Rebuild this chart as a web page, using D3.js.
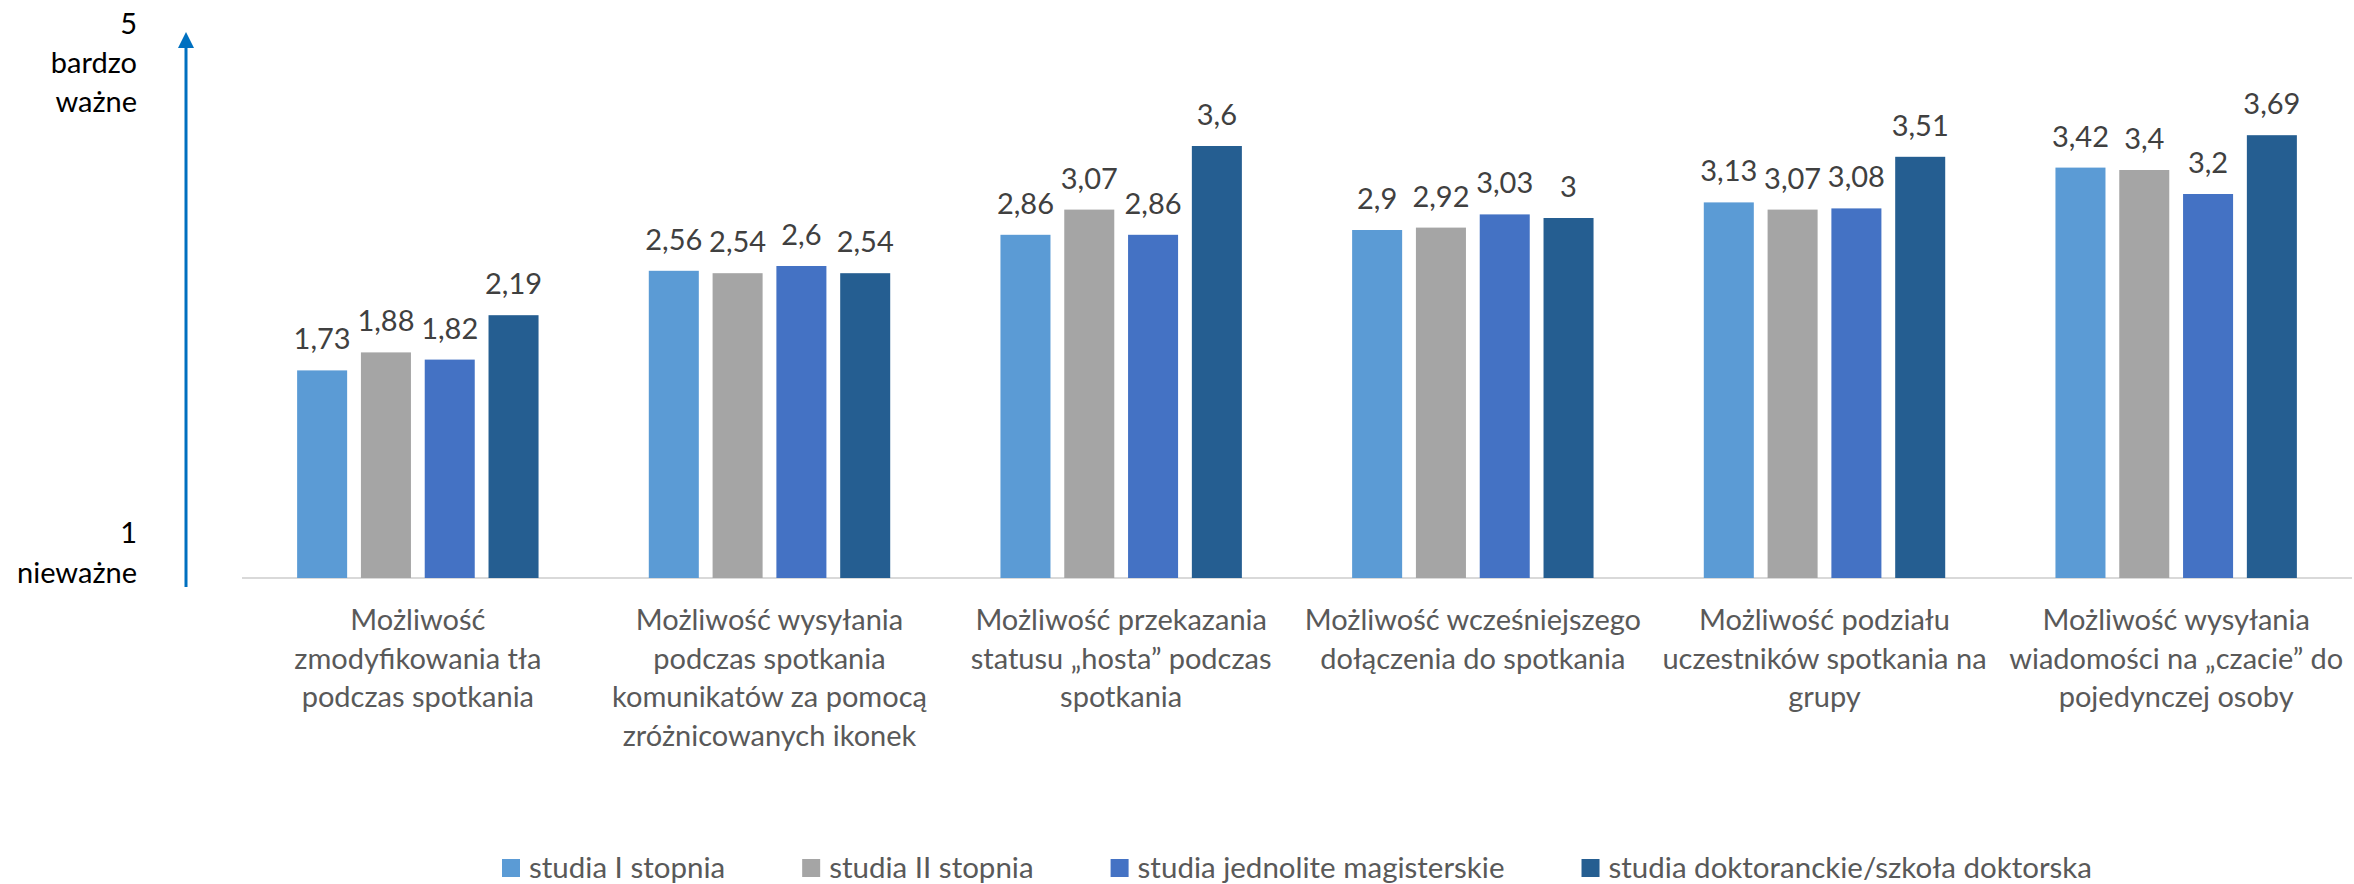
<!DOCTYPE html>
<html>
<head>
<meta charset="utf-8">
<script src="https://cdn.jsdelivr.net/npm/d3@7"></script>
<style>
  html, body { margin: 0; padding: 0; background: #fff; }
  svg { display: block; }
  text { font-family: Lato, "Open Sans", sans-serif; }
</style>
</head>
<body>
<svg id="chart" width="2354" height="884"></svg>
<script>
// ---- data ----
const categories = [
  ["Możliwość", "zmodyfikowania tła", "podczas spotkania"],
  ["Możliwość wysyłania", "podczas spotkania", "komunikatów za pomocą", "zróżnicowanych ikonek"],
  ["Możliwość przekazania", "statusu „hosta” podczas", "spotkania"],
  ["Możliwość wcześniejszego", "dołączenia do spotkania"],
  ["Możliwość podziału", "uczestników spotkania na", "grupy"],
  ["Możliwość wysyłania", "wiadomości na „czacie” do", "pojedynczej osoby"]
];
const seriesNames = [
  "studia I stopnia",
  "studia II stopnia",
  "studia jednolite magisterskie",
  "studia doktoranckie/szkoła doktorska"
];
const studiaI      = [1.73, 2.56, 2.86, 2.90, 3.13, 3.42];
const studiaII     = [1.88, 2.54, 3.07, 2.92, 3.07, 3.40];
const jednolite    = [1.82, 2.60, 2.86, 3.03, 3.08, 3.20];
const doktoranckie = [2.19, 2.54, 3.60, 3.00, 3.51, 3.69];
const seriesValues = [studiaI, studiaII, jednolite, doktoranckie];
const axisTopLabel = ["5", "bardzo", "ważne"];
const axisBottomLabel = ["1", "nieważne"];

const colors = ["#5B9BD5", "#A5A5A5", "#4472C4", "#255E91"];

// ---- layout ----
const svg = d3.select("#chart");
const plotLeft = 242, plotRight = 2352, baseY = 578;
const fmt = v => String(v).replace(".", ",");

const x0 = d3.scaleBand().domain(d3.range(categories.length)).range([plotLeft, plotRight]).padding(0);
const x1 = d3.scaleBand().domain(d3.range(seriesNames.length)).range([0, x0.bandwidth()])
  .paddingInner(0.216).paddingOuter(0.864);
const y = d3.scaleLinear().domain([0, 4]).range([baseY, baseY - 480]);

// baseline
svg.append("line")
  .attr("x1", plotLeft).attr("x2", plotRight)
  .attr("y1", y(0)).attr("y2", y(0))
  .attr("stroke", "#D9D9D9").attr("stroke-width", 2);

// bars
const groups = svg.append("g").selectAll("g")
  .data(categories.map((c, i) => i))
  .join("g")
  .attr("transform", i => `translate(${x0(i)},0)`);

groups.selectAll("rect")
  .data(i => seriesValues.map((s, k) => ({ k, v: s[i] })))
  .join("rect")
  .attr("x", d => x1(d.k))
  .attr("width", x1.bandwidth())
  .attr("y", d => y(d.v))
  .attr("height", d => y(0) - y(d.v))
  .attr("fill", d => colors[d.k]);

groups.selectAll("text.val")
  .data(i => seriesValues.map((s, k) => ({ k, v: s[i] })))
  .join("text")
  .attr("class", "val")
  .attr("x", d => x1(d.k) + x1.bandwidth() / 2)
  .attr("y", d => y(d.v) - 21)
  .attr("text-anchor", "middle")
  .attr("font-size", 29)
  .attr("fill", "#404040")
  .text(d => fmt(d.v));

// category labels
const catG = svg.append("g");
categories.forEach((lines, i) => {
  const t = catG.append("text")
    .attr("x", x0(i) + x0.bandwidth() / 2)
    .attr("y", 630)
    .attr("text-anchor", "middle")
    .attr("font-size", 29)
    .attr("fill", "#595959");
  lines.forEach((ln, j) => {
    t.append("tspan").attr("x", x0(i) + x0.bandwidth() / 2).attr("dy", j === 0 ? 0 : 38.5).text(ln);
  });
});

// y axis arrow
const axisX = 186;
svg.append("line")
  .attr("x1", axisX).attr("x2", axisX)
  .attr("y1", 587).attr("y2", 44)
  .attr("stroke", "#0070C0").attr("stroke-width", 3);
svg.append("path")
  .attr("d", `M${axisX},32 L${axisX - 8},48 L${axisX + 8},48 Z`)
  .attr("fill", "#0070C0");

const topT = svg.append("text").attr("text-anchor", "end").attr("font-size", 29).attr("fill", "#000");
axisTopLabel.forEach((ln, j) => topT.append("tspan").attr("x", 137).attr("y", 34 + j * 39).text(ln));
const botT = svg.append("text").attr("text-anchor", "end").attr("font-size", 29).attr("fill", "#000");
axisBottomLabel.forEach((ln, j) => botT.append("tspan").attr("x", 137).attr("y", 543 + j * 40).text(ln));

// legend
const legend = svg.append("g");
const sq = 18, gapText = 9, gapItem = 77;
const items = seriesNames.map((name, k) => {
  const g = legend.append("g");
  g.append("rect").attr("width", sq).attr("height", sq).attr("y", -sq / 2).attr("fill", colors[k]);
  const t = g.append("text").attr("x", sq + gapText).attr("y", 10).attr("font-size", 29.5)
    .attr("fill", "#595959").text(name);
  return { g, w: sq + gapText + t.node().getComputedTextLength() };
});
const total = d3.sum(items, d => d.w) + gapItem * (items.length - 1);
let cx = (plotLeft + plotRight) / 2 - total / 2;
items.forEach(it => {
  it.g.attr("transform", `translate(${cx},868)`);
  cx += it.w + gapItem;
});
</script>
</body>
</html>
